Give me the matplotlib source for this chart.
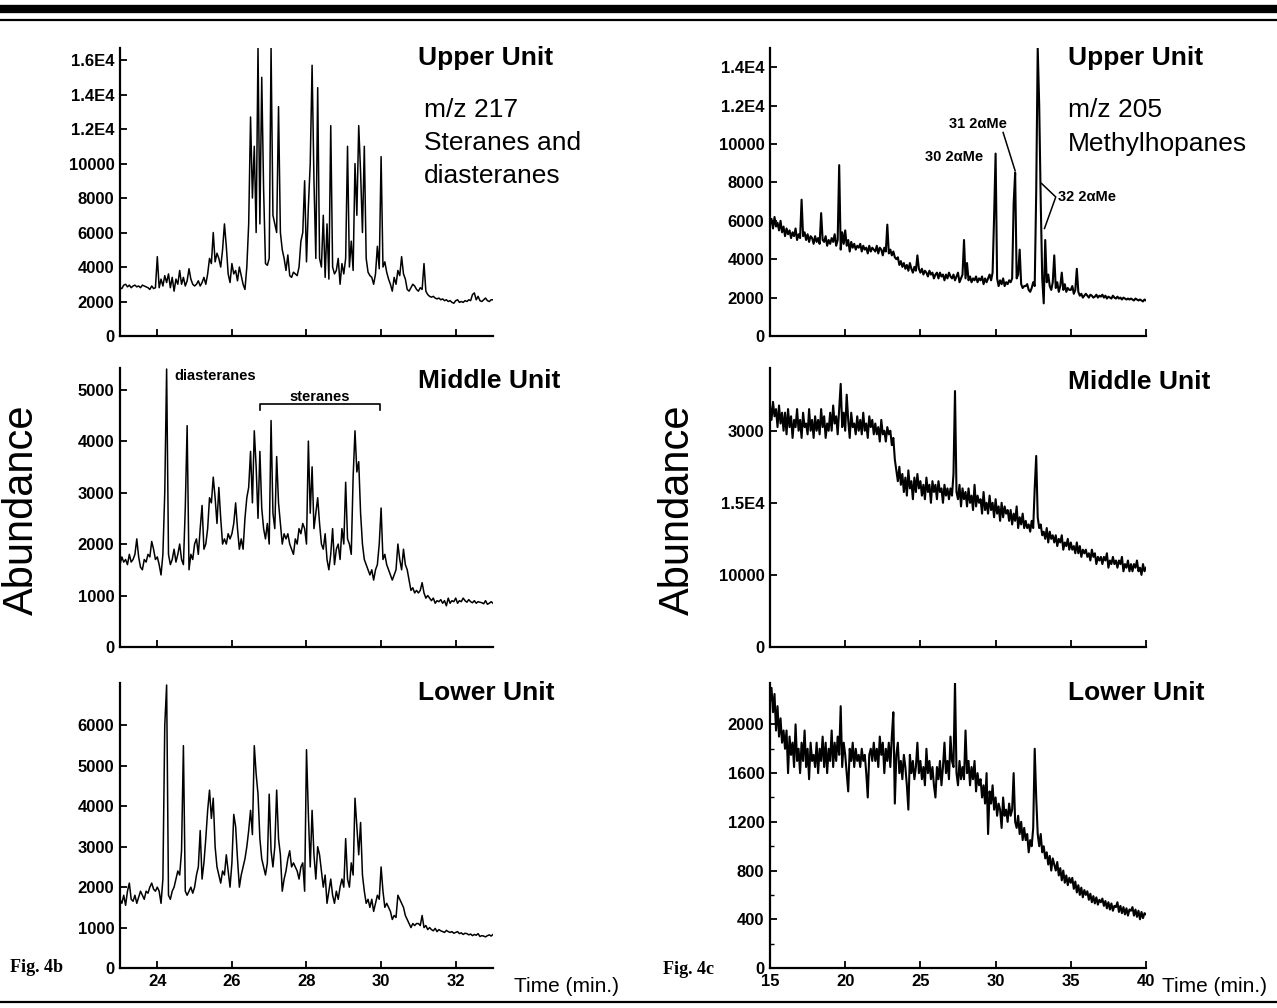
import matplotlib.pyplot as plt
from matplotlib.lines import Line2D
from matplotlib.ticker import MultipleLocator
import numpy as np

plt.rcParams["font.family"] = ["Liberation Sans", "DejaVu Sans"]

W, H = 1277, 1008

# sampling grids (minutes)
t_4b = np.linspace(23, 33, 201)   # every 0.05 min
t_4c = np.linspace(15, 40, 251)   # every 0.1 min

# ---- Fig. 4b : m/z 217, steranes and diasteranes ----
upper_217 = [
    2800, 2750, 2950, 3000, 2850, 2950, 2800, 2900, 2950, 2850, 2900, 2800, 2950, 2900, 2850, 2800, 2700, 2900, 2750, 2800,
    4600, 2800, 3300, 2900, 3500, 3100, 3600, 2800, 3400, 2600, 3300, 3000, 3800, 3000, 3400, 2900, 3200, 3900, 3300, 3000,
    2900, 3000, 3200, 2900, 3100, 3400, 3000, 3600, 4500, 4200, 6000, 4300, 4800, 4500, 4000, 5000, 6500, 5200, 3600, 3100,
    4200, 3600, 3800, 3200, 4000, 3500, 3000, 2700, 4000, 6500, 12700, 8000, 11000, 6000, 16700, 6500, 15000, 8500, 4200, 4100,
    4500, 16700, 7000, 6500, 6000, 13300, 6000, 5000, 4500, 3800, 4700, 3500, 3400, 3700, 3600, 3500, 4000, 5500, 6000, 9000,
    4300, 7500, 10000, 15700, 9000, 4500, 14400, 4500, 4000, 7000, 3400, 6500, 3300, 12200, 4000, 3600, 3800, 4500, 3000, 4200,
    3600, 4500, 11000, 4000, 5500, 3800, 10000, 7000, 12200, 9500, 6000, 11000, 4500, 3700, 3500, 3400, 3000, 3600, 5200, 3900,
    10400, 4000, 4300, 3700, 3300, 3000, 2600, 3400, 3000, 3800, 3500, 4600, 3600, 3300, 2700, 2600, 2800, 3000, 2900, 2700,
    2600, 2800, 2700, 4200, 2600, 2400, 2300, 2250, 2300, 2200, 2150, 2200, 2100, 2150, 2050, 2100, 2000, 2050, 1950, 1900,
    2050, 2100, 1950, 2000, 1950, 2050, 2000, 2100, 2050, 2400, 2500, 2100, 2300, 2050, 2000, 2100, 2200, 2050, 2000, 2100,
    2100,
]
middle_217 = [
    1600, 1750, 1650, 1700, 1600, 1800, 1650, 1700, 1800, 2100, 1750, 1550, 1500, 1700, 1650, 1800, 1750, 2050, 1900, 1700,
    1750, 1600, 1400, 1800, 3000, 5400, 1800, 1600, 1700, 1900, 1650, 1800, 2000, 1700, 1600, 2700, 4300, 1500, 1800, 1700,
    2000, 2100, 1800, 2300, 2750, 1900, 2000, 2300, 2900, 2800, 3300, 2900, 2400, 3100, 2500, 2000, 2100, 2000, 2200, 2100,
    2200, 2400, 2800, 2300, 1900, 2100, 1900, 2500, 2900, 3100, 3800, 2800, 4200, 3500, 2500, 3800, 2700, 2300, 2100, 2400,
    2000, 4400, 2600, 2300, 3700, 2800, 2400, 2000, 2200, 2100, 2200, 2000, 1900, 1800, 2100, 2000, 2300, 2200, 2400, 2300,
    2000, 4000, 2600, 3500, 2300, 2600, 2900, 2400, 2000, 1900, 2200, 1700, 1500, 1800, 2300, 1600, 1900, 2000, 1700, 2300,
    2000, 3200, 2100, 2000, 1800, 3300, 4200, 3400, 3600, 2600, 2000, 1700, 1600, 1500, 1400, 1500, 1300, 1500, 1600, 2000,
    2700, 1700, 1800, 1600, 1500, 1400, 1300, 1400, 1500, 2000, 1700, 1500, 1900, 1600, 1500, 1300, 1100, 1150, 1050, 1100,
    1050, 1100, 1250, 1050, 950, 1000, 950, 900, 950, 850, 900, 880, 920, 850, 900, 800, 950, 850, 900, 880,
    950, 850, 900, 880, 950, 900, 870, 920, 880, 860, 900, 850, 880, 870, 860, 840, 900, 830, 850, 880,
    850,
]
lower_217 = [
    1700, 1600, 1800, 1550, 1900, 2100, 1700, 1650, 1800, 1600, 1750, 1900, 1800, 1700, 1900, 1850, 2000, 2100, 1950, 1900,
    2000, 1900, 1600, 2200, 6000, 7000, 1800, 1700, 1900, 2000, 2200, 2400, 2300, 2900, 5500, 1900, 1800, 1900, 2000, 1850,
    2000, 2300, 2500, 3400, 2200, 2600, 3200, 3900, 4400, 3700, 4200, 3000, 2500, 2300, 2100, 2400, 2300, 2800, 2400, 2000,
    2600, 3800, 3500, 2700, 2000, 2300, 2500, 2700, 3000, 3400, 3900, 3300, 5500, 4800, 4300, 3200, 2700, 2500, 2300, 2600,
    4300, 2900, 2500, 3000, 4400, 3200, 2800, 1900, 2200, 2400, 2700, 2900, 2500, 2600, 2500, 2400, 2200, 2500, 2600, 1900,
    5400, 3800, 2500, 3900, 2800, 2200, 3000, 2800, 2400, 2000, 2300, 1600, 1900, 2200, 1800, 1600, 1900, 1700, 2000, 2200,
    2000, 3200, 2200, 2000, 2600, 2300, 4200, 3500, 2800, 3600, 2300, 1900, 1600, 1700, 1500, 1700, 1400, 1600, 1800, 1700,
    2500, 1900, 1500, 1600, 1500, 1400, 1200, 1300, 1250, 1800, 1700, 1600, 1500, 1300, 1200, 1100, 1000, 1100, 1050, 1100,
    1100, 1050, 1300, 1000, 1050, 950, 1000, 950, 920, 980, 900, 950, 920, 900, 880, 930, 900, 880, 900, 860,
    880, 900, 850, 870, 830, 860, 850, 820, 840, 800, 830, 810, 850, 780, 800, 790, 770, 800, 820, 790,
    830,
]

# ---- Fig. 4c : m/z 205, methylhopanes ----
upper_205 = [
    5800, 6100, 5600, 6200, 5700, 5900, 5500, 6000, 5400, 5700,
    5200, 5600, 5300, 5500, 5100, 5400, 5200, 5600, 5000, 5300,
    5100, 7100, 5200, 5400, 5000, 5300, 4900, 5200, 5100, 4800,
    5200, 4900, 5100, 4800, 6400, 5000, 4900, 5200, 4700, 5000,
    4800, 5100, 4900, 5300, 4700, 5000, 8900, 4500, 5400, 4800,
    5500, 4700, 5000, 4400, 4900, 4600, 4800, 4500, 4700, 4600,
    4800, 4400, 4700, 4500, 4600, 4300, 4700, 4400, 4600, 4500,
    4400, 4700, 4300, 4600, 4500, 4200, 4600, 4400, 5800, 4300,
    4500, 4200, 4400, 4100, 4000, 4100, 3700, 3900, 3600, 3800,
    3500, 3700, 3400, 3800, 3500, 3300, 3600, 3400, 4200, 3500,
    3300, 3500, 3200, 3400, 3300, 3100, 3400, 3200, 3300, 3000,
    3200, 3300, 3000, 3300, 3100, 3200, 2900, 3200, 3000, 3300,
    3100, 3000, 3200, 2900, 3100, 3300, 2800, 3000, 3200, 5000,
    3000, 3800, 2900, 3100, 2800, 3000, 2900, 3100, 2800, 3000,
    2900, 3100, 2700, 3000, 2800, 3000, 3200, 2900, 3300, 6200,
    9500, 3000, 2600, 2900, 2700, 3000, 2600, 2800, 2700, 2900,
    2800, 3000, 6900, 8500, 3000, 3200, 4500, 2700, 2500, 2600,
    2600, 2700, 2400, 2300, 2500, 2800, 2600, 7500, 15000, 12000,
    7000, 3000, 1700, 5000, 2800, 3200, 2600, 2400, 2800, 4200,
    2500, 2800, 2300, 2600, 3300, 2400, 2700, 2300, 2500, 2400,
    2400, 2600, 2200, 2400, 3500, 2300, 2100, 2200, 2000, 2100,
    2200, 2100, 2000, 2150, 2100, 2000, 2050, 2150, 2000, 2100,
    2050, 2150, 2000, 2100, 1950, 2050, 2000, 1950, 2100, 2000,
    1950, 2050, 1950, 2000, 1900, 2000, 1950, 1900, 1950, 1900,
    1950, 1900, 1850, 1950, 1900, 1850, 1900, 1850, 1800, 1900,
    1850,
]
middle_205 = [
    33500, 31500, 34000, 32000, 33000, 30500, 33500, 31000, 32500, 30000,
    32500, 29500, 33000, 30500, 32000, 29000, 31500, 30500, 33000, 30000,
    31500, 29000, 32500, 30500, 31000, 29500, 33000, 30000, 31500, 29000,
    32000, 30000, 31500, 29500, 33000, 30500, 32000, 29000, 31000, 30000,
    32500, 30000, 33500, 31000, 32000, 29500, 33000, 36500, 30500, 32500,
    30000, 35000, 31500, 29000, 32500, 30500, 31000, 29500, 32000, 30000,
    31500, 29500, 32500, 30000, 31000, 29000, 32000, 30500, 31500, 29500,
    31000, 29500, 30500, 28500, 31500, 29500, 30000, 28500, 30500, 29500,
    30000, 28000, 29000, 26000, 24500, 23000, 25000, 22500, 24000, 21500,
    23500, 21000, 24500, 22000, 23000, 20500, 23500, 21500, 24000, 22000,
    23000, 21000, 22500, 20500, 23500, 21500, 22500, 20000, 23000, 21500,
    22500, 20500, 23000, 21500, 22000, 20000, 22500, 21000, 22000, 20500,
    22000, 21000, 24000, 35500, 21500, 20500, 22500, 19500, 22000, 20500,
    21500, 19500, 22000, 20000, 21000, 19000, 22500, 19500, 21000, 20000,
    20500, 18500, 21500, 19000, 20000, 18500, 21000, 19000, 20000, 18000,
    20500, 18500, 19500, 17500, 20000, 18000, 19500, 18500, 19000, 17500,
    19000, 17000, 18500, 17500, 19500, 16500, 18000, 17000, 18500, 16500,
    17500, 16500, 17000, 16000, 17500, 16500, 22000, 26500, 18000, 16500,
    17000, 15500, 16000, 15000, 16500, 14500, 16000, 15000, 15500, 14500,
    15500, 14000, 15000, 14500, 15500, 13500, 14500, 14000, 15000, 13500,
    14500, 13500, 14000, 13000, 14500, 13000, 14000, 12500, 13500, 13000,
    13500, 12500, 13000, 12000, 13500, 12500, 13000, 11500, 12500, 12000,
    12500, 11500, 12500, 12000, 13000, 11000, 12000, 11500, 12500, 11500,
    12000, 11000, 12000, 11500, 12500, 10500, 11500, 11000, 12000, 10500,
    11500, 10500, 11500, 11000, 12000, 10500, 11000, 10000, 11500, 10500,
    11000,
]
lower_205 = [
    2200, 2300, 2100, 2250, 1950, 2150, 1900, 2050, 1850, 1950,
    1800, 1950, 1600, 1900, 1750, 1850, 1650, 2000, 1700, 1800,
    1600, 1850, 1700, 1950, 1650, 1800, 1550, 1850, 1700, 1750,
    1650, 1850, 1600, 1800, 1700, 1900, 1650, 1850, 1600, 1800,
    1700, 1950, 1650, 1850, 1700, 1900, 1750, 2150, 1650, 1850,
    1750, 1600, 1450, 1800, 1700, 1850, 1650, 1800, 1700, 1750,
    1650, 1800, 1700, 1750, 1600, 1400, 1750, 1800, 1700, 1850,
    1700, 1800, 1650, 1900, 1750, 1850, 1600, 1800, 1700, 1850,
    1650, 1900, 2100, 1350, 1750, 1850, 1600, 1700, 1550, 1750,
    1650, 1500, 1300, 1750, 1600, 1700, 1550, 1650, 1850, 1600,
    1700, 1550, 1650, 1500, 1800, 1600, 1700, 1550, 1650, 1500,
    1400, 1650, 1550, 1700, 1500, 1650, 1850, 1600, 1700, 1550,
    1900, 1700, 1650, 2350, 1600, 1500, 1700, 1550, 1650, 1550,
    1950, 1600, 1700, 1500, 1650, 1550, 1700, 1450, 1600, 1500,
    1550, 1400, 1500, 1350, 1600, 1100, 1450, 1350, 1500, 1300,
    1400, 1250, 1350, 1300, 1150, 1400, 1250, 1300, 1200, 1350,
    1250, 1300, 1600, 1200, 1150, 1250, 1100, 1200, 1050, 1150,
    1050, 1100, 950, 1050, 1000, 1150, 1800, 1400, 1100, 1000,
    1100, 950, 1000, 900, 950, 850, 920, 800, 900, 850,
    800, 870, 760, 820, 720, 800, 700, 760, 680, 740,
    700, 740, 650, 710, 620, 680, 600, 660, 580, 640,
    600, 630, 560, 610, 540, 590, 530, 580, 520, 560,
    540, 570, 510, 550, 490, 540, 480, 530, 470, 510,
    500, 540, 460, 510, 450, 500, 440, 490, 430, 480,
    470, 500, 430, 480, 420, 470, 400, 460, 410, 450,
    440,
]

# tick values and the labels printed in the figure
yt_upper_217 = [0, 2000, 4000, 6000, 8000, 10000, 12000, 14000, 16000]
yl_upper_217 = ["0", "2000", "4000", "6000", "8000", "10000", "1.2E4", "1.4E4", "1.6E4"]
yt_upper_205 = [0, 2000, 4000, 6000, 8000, 10000, 12000, 14000]
yl_upper_205 = ["0", "2000", "4000", "6000", "8000", "10000", "1.2E4", "1.4E4"]
yt_middle_205 = [0, 10000, 20000, 30000]
yl_middle_205 = ["0", "10000", "1.5E4", "3000"]
xt_4b = [24, 26, 28, 30, 32]
xt_4c = [15, 20, 25, 30, 35, 40]

TICK_FONT = dict(fontsize=12, fontweight="bold")


def add_px_axes(fig, left, top, right, bottom):
    return fig.add_axes([left / W, 1 - bottom / H, (right - left) / W, (bottom - top) / H])


def ftext(fig, x, y, s, **kw):
    kw.setdefault("va", "center")
    fig.text(x / W, 1 - y / H, s, **kw)


def style_axes(ax, xlim, ylim, xticks, yticks, ylabels=None, xlabels=False):
    ax.set_xlim(*xlim)
    ax.set_ylim(*ylim)
    for side in ("top", "right"):
        ax.spines[side].set_visible(False)
    for side in ("left", "bottom"):
        ax.spines[side].set_linewidth(1.6)
    ax.set_xticks(xticks)
    ax.set_yticks(yticks)
    if ylabels is None:
        ylabels = [str(v) for v in yticks]
    ax.set_yticklabels(ylabels, **TICK_FONT)
    if xlabels:
        ax.set_xticklabels([str(v) for v in xticks], **TICK_FONT)
    else:
        ax.set_xticklabels([])
    ax.tick_params(direction="in", length=5, width=1.3, pad=4)
    ax.patch.set_alpha(0)


fig = plt.figure(figsize=(W / 100, H / 100), dpi=100)

rows = [(48, 336), (368, 647), (683, 968)]
L0, L1 = 120, 493
R0, R1 = 770, 1146
LW_B, LW_C = 1.1, 1.5

# left column: Fig. 4b
ax = add_px_axes(fig, L0, rows[0][0], L1, rows[0][1])
ax.plot(t_4b, upper_217, color="black", lw=LW_B)
style_axes(ax, (23, 33), (0, 16700), xt_4b, yt_upper_217, yl_upper_217)

ax = add_px_axes(fig, L0, rows[1][0], L1, rows[1][1])
ax.plot(t_4b, middle_217, color="black", lw=LW_B)
style_axes(ax, (23, 33), (0, 5420), xt_4b, [0, 1000, 2000, 3000, 4000, 5000])
ax.text(24.45, 5260, "diasteranes", fontsize=10.5, fontweight="bold", va="center")
ax.plot([26.75, 26.75, 29.97, 29.97], [4600, 4720, 4720, 4600], color="black", lw=1.2)
ax.text(28.36, 4860, "steranes", fontsize=10.5, fontweight="bold", ha="center", va="center")

ax = add_px_axes(fig, L0, rows[2][0], L1, rows[2][1])
ax.plot(t_4b, lower_217, color="black", lw=LW_B)
style_axes(ax, (23, 33), (0, 7050), xt_4b, [0, 1000, 2000, 3000, 4000, 5000, 6000], xlabels=True)

# right column: Fig. 4c
ax = add_px_axes(fig, R0, rows[0][0], R1, rows[0][1])
ax.plot(t_4c, upper_205, color="black", lw=LW_C)
style_axes(ax, (15, 40), (0, 15000), xt_4c, yt_upper_205, yl_upper_205)
ax.text(25.3, 9320, "30 2\u03b1Me", fontsize=10.5, fontweight="bold", va="center")
ax.text(26.9, 11040, "31 2\u03b1Me", fontsize=10.5, fontweight="bold", va="center")
ax.plot([30.5, 31.3], [10600, 8600], color="black", lw=1.1)
ax.text(34.15, 7240, "32 2\u03b1Me", fontsize=10.5, fontweight="bold", va="center")
ax.plot([33.05, 34.0, 33.25], [7950, 7240, 5600], color="black", lw=1.1)

ax = add_px_axes(fig, R0, rows[1][0], R1, rows[1][1])
ax.plot(t_4c, middle_205, color="black", lw=LW_C)
style_axes(ax, (15, 40), (0, 38700), xt_4c, yt_middle_205, yl_middle_205)

ax = add_px_axes(fig, R0, rows[2][0], R1, rows[2][1])
ax.plot(t_4c, lower_205, color="black", lw=LW_C)
style_axes(ax, (15, 40), (0, 2340), xt_4c, [0, 400, 800, 1200, 1600, 2000], xlabels=True)
ax.yaxis.set_minor_locator(MultipleLocator(200))
ax.tick_params(which="minor", direction="in", length=3, width=1.0)

# panel headings
head = dict(fontsize=19, fontweight="bold")
body = dict(fontsize=19)
ftext(fig, 418, 58, "Upper Unit", **head)
ftext(fig, 424, 110, "m/z 217", **body)
ftext(fig, 424, 143, "Steranes and", **body)
ftext(fig, 424, 176, "diasteranes", **body)
ftext(fig, 1068, 58, "Upper Unit", **head)
ftext(fig, 1068, 110, "m/z 205", **body)
ftext(fig, 1068, 144, "Methylhopanes", **body)
ftext(fig, 418, 381, "Middle Unit", **head)
ftext(fig, 1068, 382, "Middle Unit", **head)
ftext(fig, 418, 693, "Lower Unit", **head)
ftext(fig, 1068, 693, "Lower Unit", **head)

ftext(fig, 22, 510, "Abundance", fontsize=30, rotation=90, ha="center")
ftext(fig, 678, 510, "Abundance", fontsize=30, rotation=90, ha="center")

ftext(fig, 514, 986, "Time (min.)", fontsize=15)
ftext(fig, 1162, 986, "Time (min.)", fontsize=15)
ftext(fig, 10, 968, "Fig. 4b", fontsize=13, fontweight="bold", family="Liberation Serif")
ftext(fig, 663, 970, "Fig. 4c", fontsize=13, fontweight="bold", family="Liberation Serif")

# page rules
for y, lw in [(9, 6.0), (20, 1.6), (1002, 1.6)]:
    fig.add_artist(Line2D([0, 1], [1 - y / H, 1 - y / H], transform=fig.transFigure,
                          color="black", lw=lw))

fig.savefig("out.png", dpi=100)
